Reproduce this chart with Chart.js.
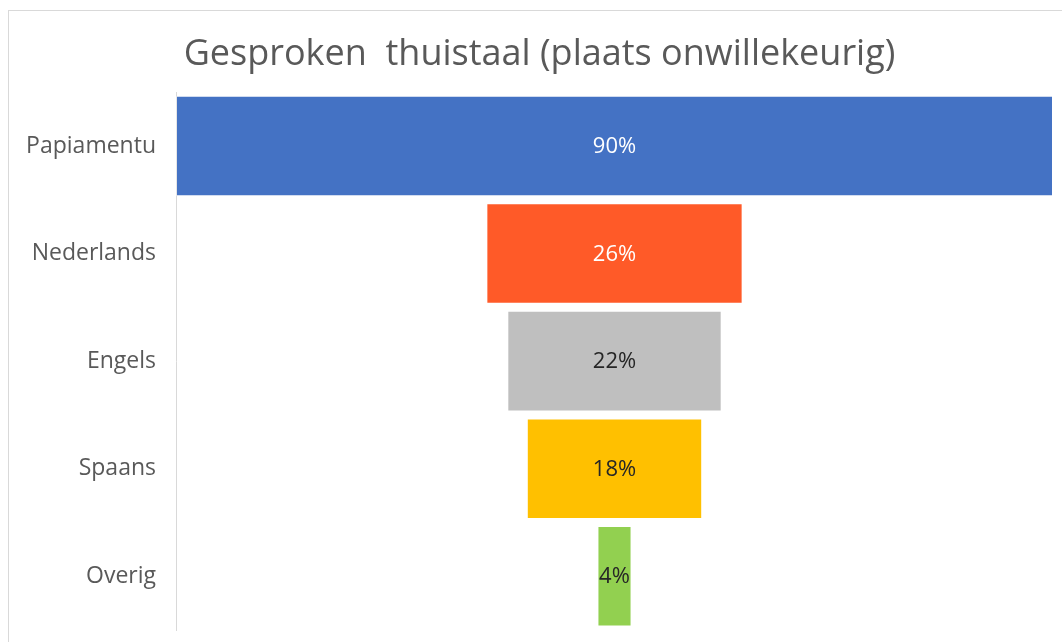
<!DOCTYPE html>
<html>
<head>
<meta charset="utf-8">
<script src="https://cdn.jsdelivr.net/npm/chart.js@4/dist/chart.umd.min.js"></script>
<style>
  html, body { margin: 0; padding: 0; background: #ffffff; overflow: hidden; }
  #wrap { position: relative; width: 1062px; height: 642px; }
  #frame { position: absolute; left: 8px; top: 10px; width: 1100px; height: 700px;
           border-left: 1px solid #d9d9d9; border-top: 1px solid #d9d9d9; pointer-events: none; }
  canvas { position: absolute; left: 0; top: 0; }
</style>
</head>
<body>
<div id="wrap">
  <canvas id="c" width="1062" height="642"></canvas>
  <div id="frame"></div>
</div>
<script>
const titleText = "Gesproken  thuistaal (plaats onwillekeurig)";
const categories = ["Papiamentu", "Nederlands", "Engels", "Spaans", "Overig"];
const values = [90, 26.3, 22, 18, 3.5];
const barColors = ["#4472C4", "#FF5A28", "#BFBFBF", "#FFC000", "#92D050"];
const labelColors = ["#ffffff", "#ffffff", "#262626", "#262626", "#262626"];

const FONT = "'Open Sans', 'DejaVu Sans', sans-serif";

const funnelLabels = {
  id: 'funnelLabels',
  afterDatasetsDraw(chart) {
    const ctx = chart.ctx;
    const meta = chart.getDatasetMeta(0);
    ctx.save();
    ctx.font = "22px " + FONT;
    ctx.textAlign = 'center';
    ctx.textBaseline = 'middle';
    meta.data.forEach((bar, i) => {
      const cx = (bar.x + bar.base) / 2;
      ctx.fillStyle = labelColors[i];
      ctx.fillText(Math.round(values[i]) + '%', cx, bar.y + 1);
    });
    ctx.restore();
  }
};

new Chart(document.getElementById('c'), {
  type: 'bar',
  data: {
    labels: categories,
    datasets: [{
      data: values.map(v => [-v / 2, v / 2]),
      backgroundColor: barColors,
      borderColor: 'rgba(255,255,255,0.35)',
      borderWidth: 1,
      borderSkipped: false,
      barPercentage: 0.935,
      categoryPercentage: 1.0
    }]
  },
  options: {
    indexAxis: 'y',
    responsive: false,
    animation: false,
    layout: { padding: { left: 26, right: 9, top: 0, bottom: 12 } },
    plugins: {
      legend: { display: false },
      tooltip: { enabled: false },
      title: {
        display: true,
        text: titleText,
        color: '#595959',
        font: { family: FONT, size: 36, weight: 'normal' },
        padding: { top: 33, bottom: 16 }
      }
    },
    scales: {
      x: {
        display: false,
        min: -45,
        max: 45
      },
      y: {
        afterFit(scale) {
          scale.width = 150;
          scale.paddingTop = 0;
          scale.paddingBottom = 0;
        },
        grid: { display: false, drawTicks: false },
        border: { display: true, color: '#d9d9d9', width: 1 },
        ticks: {
          color: '#595959',
          padding: 20,
          font: { family: FONT, size: 23 }
        }
      }
    }
  },
  plugins: [funnelLabels]
});
</script>
</body>
</html>
